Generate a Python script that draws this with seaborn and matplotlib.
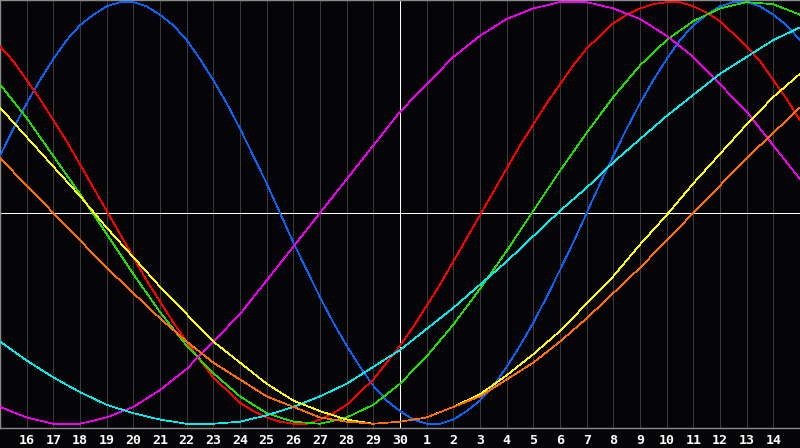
import numpy as np
import pandas as pd
import matplotlib
matplotlib.use("Agg")
import matplotlib.pyplot as plt
import seaborn as sns

# day labels along the bottom (first and last are cut off in the picture)
day_labels = [15, 16, 17, 18, 19, 20, 21, 22, 23, 24, 25, 26, 27, 28, 29, 30,
              1, 2, 3, 4, 5, 6, 7, 8, 9, 10, 11, 12, 13, 14, 15]

# curve values (-1 .. 1)
# blue and red bend fast, so they are read every half day
blue = [0.27, 0.40, 0.52, 0.63, 0.73, 0.82, 0.89, 0.94, 0.98, 1.00,
        1.00, 0.98, 0.94, 0.89, 0.82, 0.73, 0.63, 0.52, 0.40, 0.27,
        0.14, 0.00, -0.14, -0.27, -0.40, -0.52, -0.63, -0.73, -0.82, -0.89,
        -0.94, -0.98, -1.00, -1.00, -0.98, -0.94, -0.89, -0.82, -0.73, -0.63,
        -0.52, -0.40, -0.27, -0.14, 0.00, 0.14, 0.27, 0.40, 0.52, 0.63,
        0.73, 0.82, 0.89, 0.94, 0.98, 1.00, 1.00, 0.98, 0.94, 0.89, 0.82]
red = [0.79, 0.72, 0.63, 0.54, 0.44, 0.34, 0.23, 0.12, 0.01, -0.10,
       -0.21, -0.32, -0.42, -0.52, -0.61, -0.70, -0.78, -0.84, -0.90, -0.94,
       -0.97, -0.99, -1.00, -1.00, -0.98, -0.95, -0.91, -0.85, -0.79, -0.71,
       -0.63, -0.54, -0.44, -0.34, -0.23, -0.12, -0.01, 0.10, 0.21, 0.32,
       0.42, 0.52, 0.61, 0.70, 0.78, 0.84, 0.90, 0.94, 0.97, 0.99,
       1.00, 1.00, 0.98, 0.95, 0.91, 0.85, 0.79, 0.72, 0.63, 0.54, 0.44]
# the slower curves are read once per day
green = [0.61, 0.45, 0.27, 0.09, -0.10, -0.29, -0.47, -0.63, -0.76, -0.87, -0.95,
         -0.99, -1.00, -0.97, -0.91, -0.81, -0.68, -0.53, -0.36, -0.18, 0.01,
         0.20, 0.38, 0.55, 0.70, 0.82, 0.91, 0.97, 1.00, 0.99, 0.94]
magenta = [-0.92, -0.97, -1.00, -1.00, -0.97, -0.92, -0.84, -0.74, -0.61, -0.48, -0.32,
           -0.16, 0.00, 0.16, 0.32, 0.48, 0.61, 0.74, 0.84, 0.92, 0.97,
           1.00, 1.00, 0.97, 0.92, 0.84, 0.74, 0.61, 0.48, 0.32, 0.16]
cyan = [-0.61, -0.70, -0.78, -0.85, -0.91, -0.95, -0.98, -1.00, -1.00, -0.99, -0.96,
        -0.92, -0.87, -0.81, -0.73, -0.65, -0.55, -0.45, -0.34, -0.23, -0.11,
        0.01, 0.12, 0.24, 0.35, 0.46, 0.56, 0.66, 0.74, 0.82, 0.88]
yellow = [0.50, 0.36, 0.22, 0.08, -0.07, -0.21, -0.35, -0.48, -0.61, -0.71, -0.81,
          -0.89, -0.94, -0.98, -1.00, -0.99, -0.97, -0.92, -0.86, -0.77, -0.67,
          -0.56, -0.43, -0.30, -0.15, -0.01, 0.14, 0.28, 0.42, 0.55, 0.66]
orange = [0.26, 0.13, 0.00, -0.13, -0.26, -0.38, -0.50, -0.61, -0.71, -0.79, -0.87,
          -0.92, -0.97, -0.99, -1.00, -0.99, -0.97, -0.92, -0.87, -0.79, -0.71,
          -0.61, -0.50, -0.38, -0.26, -0.13, 0.00, 0.13, 0.26, 0.38, 0.50]

series = {"blue": blue, "red": red, "green": green, "magenta": magenta,
          "cyan": cyan, "yellow": yellow, "orange": orange}
colors = {"blue": "#0a64f5", "red": "#ff0000", "green": "#22dd00",
          "magenta": "#ee00ee", "cyan": "#00eeee", "yellow": "#ffff00",
          "orange": "#ff7000"}

n = len(day_labels)
rows = []
for name, vals in series.items():
    step = (n - 1) / (len(vals) - 1)
    for k, v in enumerate(vals):
        rows.append({"pos": k * step, "value": v, "curve": name})
df = pd.DataFrame(rows)

sns.set_theme(style="dark")
plt.rcParams["font.family"] = ["DejaVu Sans Mono", "DejaVu Sans"]
plt.rcParams["lines.antialiased"] = False

bg = "#050508"
fig = plt.figure(figsize=(8, 4.48), dpi=100, facecolor=bg)
ax = fig.add_axes([0, 20 / 448, 1, 428 / 448])
ax.set_facecolor(bg)

mid = n // 2
for i in range(1, n - 1):
    if i != mid:
        ax.axvline(i, color="#3a3a3a", lw=0.6, zorder=0)
ax.axvline(mid, color="white", lw=0.6, zorder=1)
ax.axhline(0, color="white", lw=0.6, zorder=1)

sns.lineplot(data=df, x="pos", y="value", hue="curve", palette=colors,
             hue_order=list(series.keys()), linewidth=0.5, legend=False,
             ax=ax, zorder=3)

ax.set_xlim(0, n - 1)
ax.set_ylim(-1.02, 1.01)
ax.set_xticks(range(1, n - 1))
ax.set_xticklabels([str(d) for d in day_labels[1:-1]], color="white",
                   fontsize=9.5, fontweight="bold")
ax.tick_params(axis="x", length=0, pad=4)
ax.set_yticks([])
ax.set_xlabel("")
ax.set_ylabel("")
ax.grid(False)
for side in ["left", "top", "bottom"]:
    ax.spines[side].set_visible(True)
    ax.spines[side].set_color("#8a8a8a")
    ax.spines[side].set_linewidth(1.0)
ax.spines["right"].set_visible(False)

fig.savefig("out.png", dpi=100, facecolor=bg)
